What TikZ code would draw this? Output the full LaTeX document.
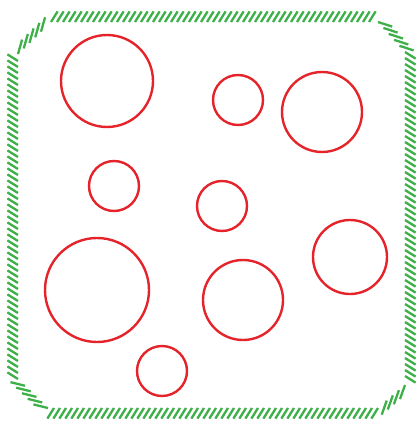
\documentclass[tikz,border=0pt]{standalone}
\usepackage{xcolor}
\usepackage{tikz}
\usetikzlibrary{decorations.pathreplacing}

\definecolor{wallgreen}{RGB}{62,176,74}
\definecolor{ballred}{RGB}{228,35,42}

\begin{document}
\begin{tikzpicture}[
  x=1pt, y=-1pt,
  wall/.style={draw=wallgreen, line width=2.3pt, decorate,
    decoration={border, segment length=6pt, amplitude=12.5pt, angle=58}},
  chamfer/.style={wall, decoration={border, segment length=8pt, amplitude=15pt, angle=30}},
  ball/.style={draw=ballred, line width=2.4pt}
]
  \useasboundingbox (0,0) rectangle (418,425);

  % inner outline of the box
  \coordinate (tl1) at (18,54);
  \coordinate (tl2) at (51,22);
  \coordinate (tr1) at (378,22);
  \coordinate (tr2) at (405,52);
  \coordinate (br1) at (405,385);
  \coordinate (br2) at (378,408);
  \coordinate (bl1) at (48,408);
  \coordinate (bl2) at (18,379);

  \draw[wall] (tl2) -- (tr1);
  \draw[chamfer] (tr1) -- (tr2);
  \draw[wall] (tr2) -- (br1);
  \draw[chamfer] (br1) -- (br2);
  \draw[wall] (br2) -- (bl1);
  \draw[chamfer] (bl1) -- (bl2);
  \draw[wall] (bl2) -- (tl1);
  \draw[chamfer] (tl1) -- (tl2);

  % balls
  \draw[ball] (107,81) circle[radius=46];
  \draw[ball] (238,100) circle[radius=25];
  \draw[ball] (322,112) circle[radius=40];
  \draw[ball] (114,186) circle[radius=25];
  \draw[ball] (222,206) circle[radius=25];
  \draw[ball] (97,290) circle[radius=52];
  \draw[ball] (350,257) circle[radius=37];
  \draw[ball] (243,300) circle[radius=40];
  \draw[ball] (162,371) circle[radius=25];
\end{tikzpicture}
\end{document}
